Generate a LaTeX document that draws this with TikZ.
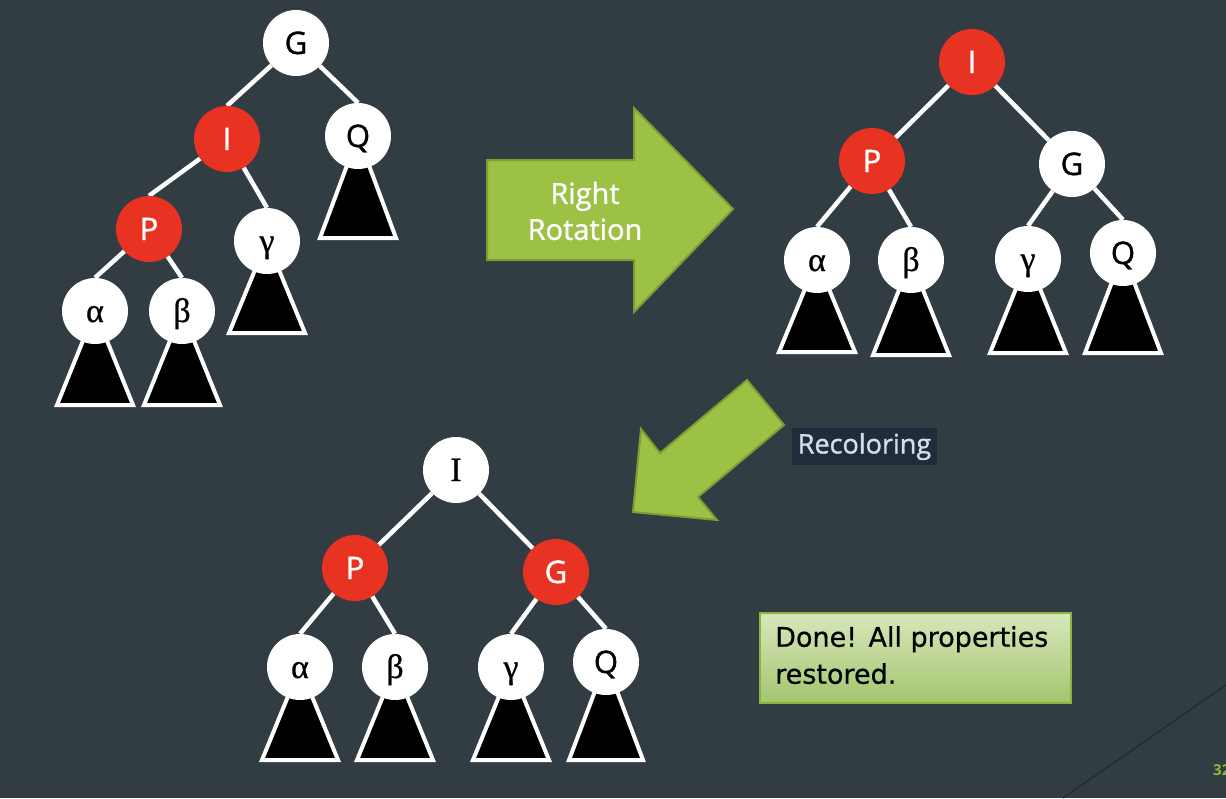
\documentclass[tikz,border=0pt]{standalone}
\usepackage{fontspec}
\setmainfont{Liberation Serif}
\setsansfont{Open Sans}
\newfontfamily\notefont[FakeBold=0.6]{DejaVu Sans}
\newfontfamily\labelsans[FakeBold=1.2]{Open Sans}
\newfontfamily\labelserif[FakeBold=0.8]{Liberation Serif}
\usetikzlibrary{calc}

\definecolor{slidebg}{HTML}{323C43}
\definecolor{rbred}{HTML}{E83222}
\definecolor{arrowgreen}{HTML}{9CC145}
\definecolor{arrowedge}{HTML}{7B9E34}
\definecolor{tagbg}{HTML}{212C3A}
\definecolor{tagtext}{HTML}{D2DDED}
\definecolor{notetop}{HTML}{D8E7BB}
\definecolor{notebottom}{HTML}{A4C56F}
\definecolor{noteedge}{HTML}{8CB33E}
\definecolor{pagenum}{HTML}{8DB63F}
\definecolor{deco}{HTML}{20282F}

\pgfdeclarelayer{backdrop}
\pgfdeclarelayer{under}
\pgfsetlayers{backdrop,under,main}

\tikzset{
  rbnode/.style={circle, minimum size=66pt, inner sep=0pt, text height=22pt, text depth=0pt},
  whitenode/.style={rbnode, fill=white, text=black},
  rednode/.style={rbnode, fill=rbred, text=white},
  sanslabel/.style={font=\labelsans\fontsize{31}{31}\selectfont},
  seriflabel/.style={font=\labelserif\fontsize{34}{34}\selectfont},
  link/.style={draw=white, line width=4.5pt},
  subtree/.style={draw=white, fill=black, line width=4pt},
  bigarrow/.style={fill=arrowgreen, draw=arrowedge, line width=2pt, line join=miter},
}

\begin{document}
\begin{tikzpicture}[x=1pt, y=-1pt]
\useasboundingbox (0,0) rectangle (1226,798);
\begin{pgfonlayer}{backdrop}
  \fill[slidebg] (0,0) rectangle (1226,798);
  \draw[deco, line width=1pt] (1226,685) -- (1063,798);
\end{pgfonlayer}

% ---------- tree before rotation ----------
\node[whitenode, sanslabel] (g1) at (296,43) {G};
\node[rednode, sanslabel]   (i1) at (227,139) {I};
\node[whitenode, sanslabel] (q1) at (358,136) {Q};
\node[rednode, sanslabel]   (p1) at (149,229) {P};
\node[whitenode, seriflabel] (c1) at (267,241) {γ};
\node[whitenode, seriflabel] (a1) at (95,311) {α};
\node[whitenode, seriflabel] (b1) at (182,311) {β};

% ---------- tree after rotation ----------
\node[rednode, sanslabel]   (i2) at (972,62) {I};
\node[rednode, sanslabel]   (p2) at (872,161) {P};
\node[whitenode, sanslabel] (g2) at (1072,164) {G};
\node[whitenode, seriflabel] (a2) at (817,260) {α};
\node[whitenode, seriflabel] (b2) at (911,260) {β};
\node[whitenode, seriflabel] (c2) at (1028,259) {γ};
\node[whitenode, sanslabel] (q2) at (1123,253) {Q};

% ---------- tree after recoloring ----------
\node[whitenode, seriflabel] (i3) at (456,470) {I};
\node[rednode, sanslabel]   (p3) at (355,568) {P};
\node[rednode, sanslabel]   (g3) at (556,572) {G};
\node[whitenode, seriflabel] (a3) at (300,667) {α};
\node[whitenode, seriflabel] (b3) at (395,667) {β};
\node[whitenode, seriflabel] (c3) at (511,667) {γ};
\node[whitenode, sanslabel] (q3) at (606,662) {Q};

\begin{pgfonlayer}{under}
  % tree edges: from the parent towards the top of the child
  \draw[link] (g1) -- (i1.north);
  \draw[link] (g1) -- (q1.north);
  \draw[link] (i1) -- (p1.north);
  \draw[link] (i1) -- (c1.north);
  \draw[link] (p1) -- (a1.north);
  \draw[link] (p1) -- (b1.north);

  \draw[link] (i2) -- (p2);
  \draw[link] (i2) -- (g2);
  \draw[link] (p2) -- (a2.north);
  \draw[link] (p2) -- (b2.north);
  \draw[link] (g2) -- (c2.north);
  \draw[link] (g2) -- (q2.north);

  \draw[link] (i3) -- (p3);
  \draw[link] (i3) -- (g3);
  \draw[link] (p3) -- (a3.north);
  \draw[link] (p3) -- (b3.north);
  \draw[link] (g3) -- (c3.north);
  \draw[link] (g3) -- (q3.north);

  % subtrees hanging below the leaves
  \draw[subtree] (a1.center) -- ++(-38,94) -- ++(76,0) -- cycle;
  \draw[subtree] (b1.center) -- ++(-38,94) -- ++(76,0) -- cycle;
  \draw[subtree] (c1.center) -- ++(-38,92) -- ++(76,0) -- cycle;
  \draw[subtree] (q1.center) -- ++(-38,102) -- ++(76,0) -- cycle;

  \draw[subtree] (a2.center) -- ++(-38,92) -- ++(76,0) -- cycle;
  \draw[subtree] (b2.center) -- ++(-38,95) -- ++(76,0) -- cycle;
  \draw[subtree] (c2.center) -- ++(-38,94) -- ++(76,0) -- cycle;
  \draw[subtree] (q2.center) -- ++(-38,100) -- ++(76,0) -- cycle;

  \draw[subtree] (a3.center) -- ++(-38,93) -- ++(76,0) -- cycle;
  \draw[subtree] (b3.center) -- ++(-38,93) -- ++(76,0) -- cycle;
  \draw[subtree] (c3.center) -- ++(-38,93) -- ++(76,0) -- cycle;
  \draw[subtree] (q3.center) -- ++(-37,98) -- ++(74,0) -- cycle;
\end{pgfonlayer}

% ---------- block arrows ----------
\draw[bigarrow] (487,160) -- (634,160) -- (634,108) -- (733,209)
  -- (634,312) -- (634,260) -- (487,260) -- cycle;
\node[text=white, align=center, font=\labelsans\fontsize{29}{36}\selectfont] (rot)
  at (585,211) {Right\\Rotation};

\draw[bigarrow] (747,380) -- (784,425) -- (698,497) -- (717,520)
  -- (633,512) -- (641,429) -- (660,453) -- cycle;
\node[fill=tagbg, text=tagtext, font=\labelsans\fontsize{27}{27}\selectfont,
  minimum width=145pt, minimum height=37pt, inner sep=0pt] (recol)
  at (864.5,446.5) {Recoloring};

% ---------- closing note ----------
\node[draw=noteedge, line width=1.5pt, top color=notetop, bottom color=notebottom,
  minimum width=311pt, minimum height=90pt, inner sep=0pt] (note) at (915.5,658) {};
\node[anchor=north west, inner sep=0pt, align=left, text=black,
  font=\notefont\fontsize{27}{37}\selectfont] (notetext) at (775,626)
  {Done! All properties\\restored.};

\node[anchor=base west, inner sep=0pt, text=pagenum,
  font=\sffamily\bfseries\fontsize{15}{15}\selectfont] (page) at (1213,775) {32};
\end{tikzpicture}
\end{document}
